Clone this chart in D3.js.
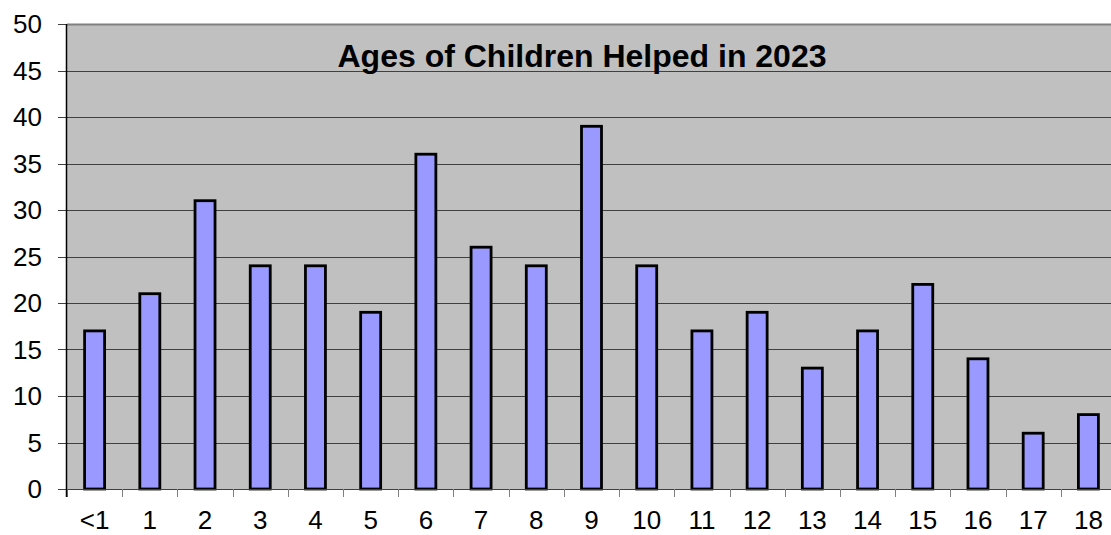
<!DOCTYPE html>
<html><head><meta charset="utf-8">
<script src="https://cdn.jsdelivr.net/npm/d3@7"></script>
<style>
html,body{margin:0;padding:0;background:#fff;overflow:hidden;}
svg{display:block;}
text{font-family:"Liberation Sans",Arial,sans-serif;}
</style></head>
<body>
<svg id="c" width="1111" height="535"></svg>
<script>
const categories = ["<1","1","2","3","4","5","6","7","8","9","10","11","12","13","14","15","16","17","18"];
const values = [17,21,31,24,24,19,36,26,24,39,24,17,19,13,17,22,14,6,8];
const yTicks = [0,5,10,15,20,25,30,35,40,45,50];
const title = "Ages of Children Helped in 2023";

(function () {
const svg = d3.select("#c");
const pL = 67, pR = 1116, pT = 24, pB = 489;
const x = d3.scaleBand().domain(categories).range([pL, pR]).paddingInner(0).paddingOuter(0);
const y = d3.scaleLinear().domain([0, 50]).range([pB, pT]);

// plot background
svg.append("rect").attr("x", pL).attr("y", pT).attr("width", pR - pL).attr("height", pB - pT).attr("fill", "#c0c0c0");

// gridlines + y ticks
svg.append("g").selectAll("line").data(yTicks.filter(d => d > 0 && d < 50)).join("line")
  .attr("x1", 58).attr("x2", pR)
  .attr("y1", d => Math.round(y(d)) + 0.5).attr("y2", d => Math.round(y(d)) + 0.5)
  .attr("stroke", "#404040").attr("stroke-width", 1);

// top border
svg.append("line").attr("x1", pL).attr("x2", pR).attr("y1", pT + 0.5).attr("y2", pT + 0.5)
  .attr("stroke", "#808080").attr("stroke-width", 2);
svg.append("line").attr("x1", 58).attr("x2", pL).attr("y1", pT + 0.5).attr("y2", pT + 0.5)
  .attr("stroke", "#404040").attr("stroke-width", 1);

// y axis labels
svg.append("g").selectAll("text").data(yTicks).join("text")
  .attr("x", 42).attr("y", d => y(d)).attr("dy", "0.35em")
  .attr("text-anchor", "end").attr("font-size", 26).attr("fill", "#000")
  .text(d => d);

// title
svg.append("text").attr("x", 582).attr("y", 67).attr("text-anchor", "middle")
  .attr("font-size", 32).attr("font-weight", "bold").attr("fill", "#000").text(title);

// bars
const bw = 20;
svg.append("g").selectAll("rect").data(values).join("rect")
  .attr("x", (d, i) => x(categories[i]) + x.bandwidth() / 2 - bw / 2)
  .attr("y", d => y(d))
  .attr("width", bw)
  .attr("height", d => y(0) - y(d))
  .attr("fill", "#9999ff").attr("stroke", "#000").attr("stroke-width", 2.8);

// x axis line and ticks
svg.append("line").attr("x1", 58).attr("x2", pR).attr("y1", pB + 0.5).attr("y2", pB + 0.5)
  .attr("stroke", "#404040").attr("stroke-width", 1);
const xt = categories.map((c, i) => pL + i * x.step()).concat([pR]);
svg.append("g").selectAll("line").data(xt).join("line")
  .attr("x1", d => Math.round(d) + 0.5).attr("x2", d => Math.round(d) + 0.5)
  .attr("y1", pB).attr("y2", pB + 8)
  .attr("stroke", "#808080").attr("stroke-width", 1);

// left axis
svg.append("line").attr("x1", pL - 0.5).attr("x2", pL - 0.5).attr("y1", pT).attr("y2", pB + 8)
  .attr("stroke", "#000").attr("stroke-width", 1.5);

// x labels
svg.append("g").selectAll("text").data(categories).join("text")
  .attr("x", d => x(d) + x.bandwidth() / 2).attr("y", 529)
  .attr("text-anchor", "middle").attr("font-size", 26).attr("fill", "#000")
  .text(d => d);
})();
</script>
</body></html>
